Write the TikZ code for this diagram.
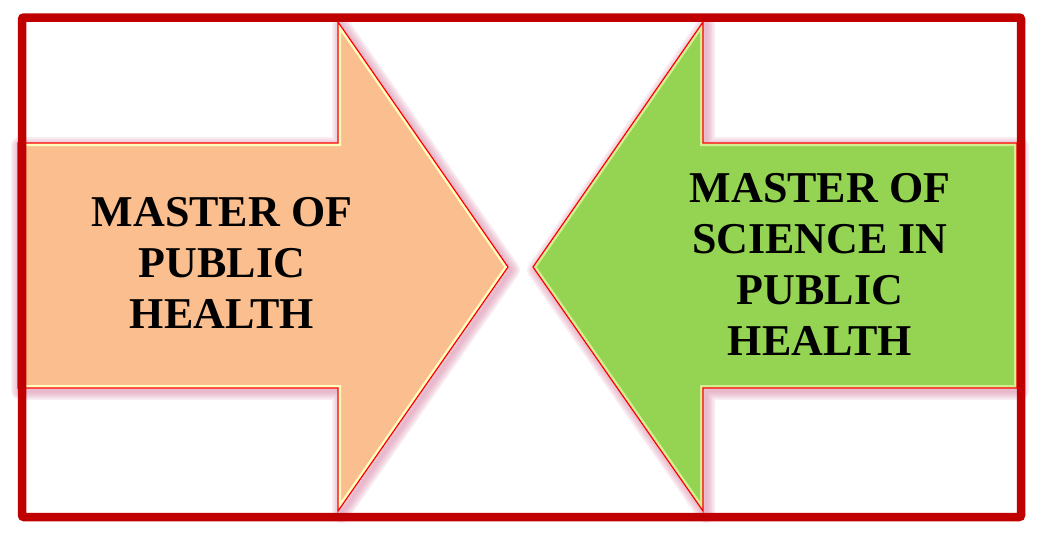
\documentclass[tikz,border=0pt]{standalone}
\usepackage{fontspec}
\setmainfont{Liberation Serif}
\usetikzlibrary{positioning}
\definecolor{frame}{HTML}{C00000}
\definecolor{peach}{HTML}{FBBF8F}
\definecolor{leaf}{HTML}{94D452}
\definecolor{glow}{HTML}{D98AAA}
\definecolor{rim}{HTML}{FFFFC0}
\begin{document}
\begin{tikzpicture}[x=1pt,y=-1pt]
  \tikzset{
    label/.style={align=center, font=\bfseries\fontsize{44}{51}\selectfont,
          inner sep=0pt},
    outline/.style={draw=red, line width=1.2pt, line join=miter}
  }
  \useasboundingbox (0,0) rectangle (1041,533);

  % glow behind both arrows
  \foreach \w in {3,6,...,18} {
    \draw[glow, opacity=0.14, line width=\w pt, line join=round]
      (20,146) -- (341,146) -- (341,25) -- (511,270) -- (341,514) --
      (341,391) -- (20,391) -- cycle;
    \draw[glow, opacity=0.14, line width=\w pt, line join=round]
      (536,270) -- (706,25) -- (706,146) -- (1020,146) -- (1020,391) --
      (706,391) -- (706,514) -- cycle;
  }

  % left arrow
  \fill[peach] (18,143) -- (338,143) -- (338,22) -- (508,267) -- (338,511) --
      (338,388) -- (18,388) -- cycle;
  \begin{scope}
    \clip (18,143) -- (338,143) -- (338,22) -- (508,267) -- (338,511) --
      (338,388) -- (18,388) -- cycle;
    \draw[rim, line width=6pt] (18,143) -- (338,143) -- (338,22) --
      (508,267) -- (338,511) -- (338,388) -- (18,388) -- cycle;
  \end{scope}
  \draw[outline] (18,143) -- (338,143) -- (338,22) -- (508,267) --
      (338,511) -- (338,388) -- (18,388) -- cycle;

  % right arrow
  \fill[leaf] (533,267) -- (703,22) -- (703,143) -- (1017,143) --
      (1017,388) -- (703,388) -- (703,511) -- cycle;
  \begin{scope}
    \clip (533,267) -- (703,22) -- (703,143) -- (1017,143) --
      (1017,388) -- (703,388) -- (703,511) -- cycle;
    \draw[rim!60!leaf, line width=6pt] (533,267) -- (703,22) --
      (703,143) -- (1017,143) -- (1017,388) -- (703,388) -- (703,511) -- cycle;
  \end{scope}
  \draw[outline] (533,267) -- (703,22) -- (703,143) -- (1017,143) --
      (1017,388) -- (703,388) -- (703,511) -- cycle;

  \node[label] (mph) at (222,263) {MASTER OF\\PUBLIC\\HEALTH};
  \node[label] (msph) at (820,264) {MASTER OF\\SCIENCE IN\\PUBLIC\\HEALTH};

  % outer frame
  \draw[frame, line width=8.5pt, rounded corners=2pt] (22,17.5) rectangle (1021,517);
\end{tikzpicture}
\end{document}
